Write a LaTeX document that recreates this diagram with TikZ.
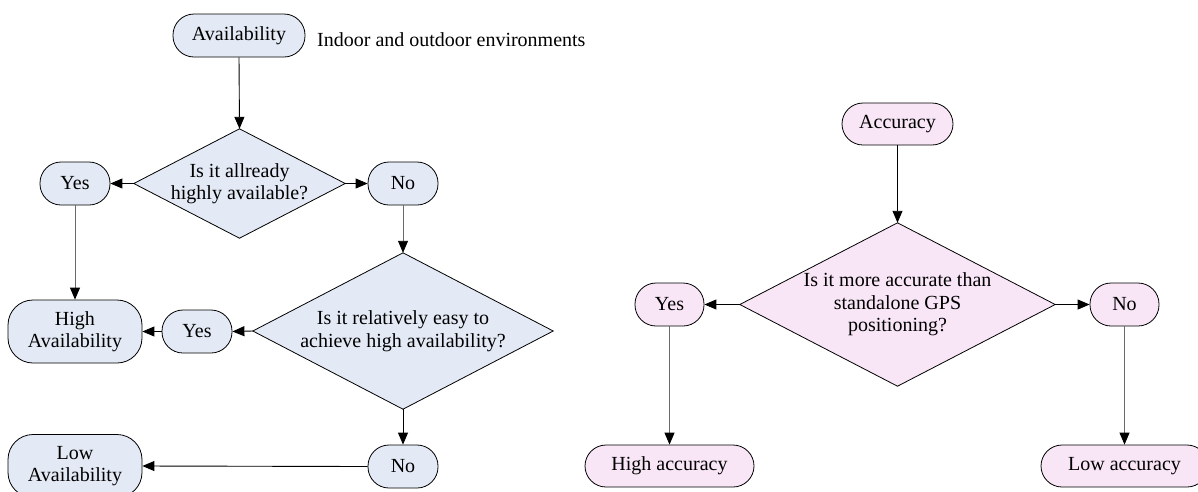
\documentclass[tikz,border=0pt]{standalone}
\usepackage{fontspec}
\setmainfont{Liberation Serif}
\usetikzlibrary{arrows.meta,backgrounds}

\definecolor{availfill}{HTML}{E4EAF5}
\definecolor{accfill}{HTML}{F8E6F7}
\definecolor{linkgray}{HTML}{6A6A6A}

\tikzset{
  pill/.style={draw=black, line width=0.8pt, rounded corners=21pt,
    inner sep=0pt, align=center, minimum height=43pt},
  question/.style={inner sep=0pt, align=center},
  qshape/.style={draw=black, line width=0.8pt},
  flow/.style={line width=0.9pt, -{Triangle[length=12pt,width=10pt]}},
  grayflow/.style={flow, draw=linkgray, -{Triangle[length=12pt,width=10pt,color=black]}},
}

\begin{document}
\begin{tikzpicture}[x=1pt, y=-1pt, font=\fontsize{20}{22.5}\selectfont]
\useasboundingbox (0,0) rectangle (1198,491);
\clip (0,0) rectangle (1198,491);

% ---- Availability flow ----
\node[pill, fill=availfill, minimum width=132pt] (avail) at (239,35.5) {Availability};
\node[anchor=base west, inner sep=0pt] (envlabel) at (317,46) {Indoor and outdoor environments};

\node[question, minimum width=211pt, minimum height=109pt] (q1) at (239.5,183.5)
  {Is it allready\\highly available?};
\node[pill, fill=availfill, minimum width=70pt] (yes1) at (75,183.5) {Yes};
\node[pill, fill=availfill, minimum width=70pt] (no1) at (403,183.5) {No};

\node[question, minimum width=300pt, minimum height=156pt] (q2) at (403,331)
  {Is it relatively easy to\\achieve high availability?};
\node[pill, fill=availfill, minimum width=70pt] (yes2) at (197,331.5) {Yes};
\node[pill, fill=availfill, minimum width=134pt, minimum height=63pt, rounded corners=25pt] (highav) at (75,331.5)
  {High\\Availability};
\node[pill, fill=availfill, minimum width=70pt] (no2) at (403,466.5) {No};
\node[pill, fill=availfill, minimum width=134pt, minimum height=63pt, rounded corners=25pt] (lowav) at (75,466)
  {Low\\Availability};

% ---- Accuracy flow ----
\node[pill, fill=accfill, minimum width=111pt, minimum height=42pt] (acc) at (897.5,124) {Accuracy};
\node[question, minimum width=315pt, minimum height=163pt] (q3) at (897.5,304.5)
  {Is it more accurate than\\standalone GPS\\positioning?};
\node[pill, fill=accfill, minimum width=69pt] (yes3) at (669.5,304.5) {Yes};
\node[pill, fill=accfill, minimum width=69pt] (no3) at (1124.5,304.5) {No};
\node[pill, fill=accfill, minimum width=169pt, minimum height=42pt] (highacc) at (669.5,466) {High accuracy};
\node[pill, fill=accfill, minimum width=167pt, minimum height=42pt] (lowacc) at (1124.5,466) {Low accuracy};

% diamond outlines behind the question texts
\begin{scope}[on background layer]
  \foreach \q/\c in {q1/availfill, q2/availfill, q3/accfill}
    \filldraw[qshape, fill=\c] (\q.north) -- (\q.east) -- (\q.south) -- (\q.west) -- cycle;
\end{scope}

% ---- connectors ----
\draw[flow] (avail.south) -- (q1.north);
\draw[flow] (q1.west) -- (yes1.east);
\draw[flow] (q1.east) -- (no1.west);
\draw[grayflow] (yes1.south) -- (highav.north);
\draw[grayflow] (no1.south) -- (q2.north);
\draw[flow] (q2.west) -- (yes2.east);
\draw[flow] (yes2.west) -- (highav.east);
\draw[flow] (q2.south) -- (no2.north);
\draw[flow] (no2.west) -- (lowav.east);

\draw[flow] (acc.south) -- (q3.north);
\draw[flow] (q3.west) -- (yes3.east);
\draw[flow] (q3.east) -- (no3.west);
\draw[grayflow] (yes3.south) -- (highacc.north);
\draw[grayflow] (no3.south) -- (lowacc.north);
\end{tikzpicture}
\end{document}
